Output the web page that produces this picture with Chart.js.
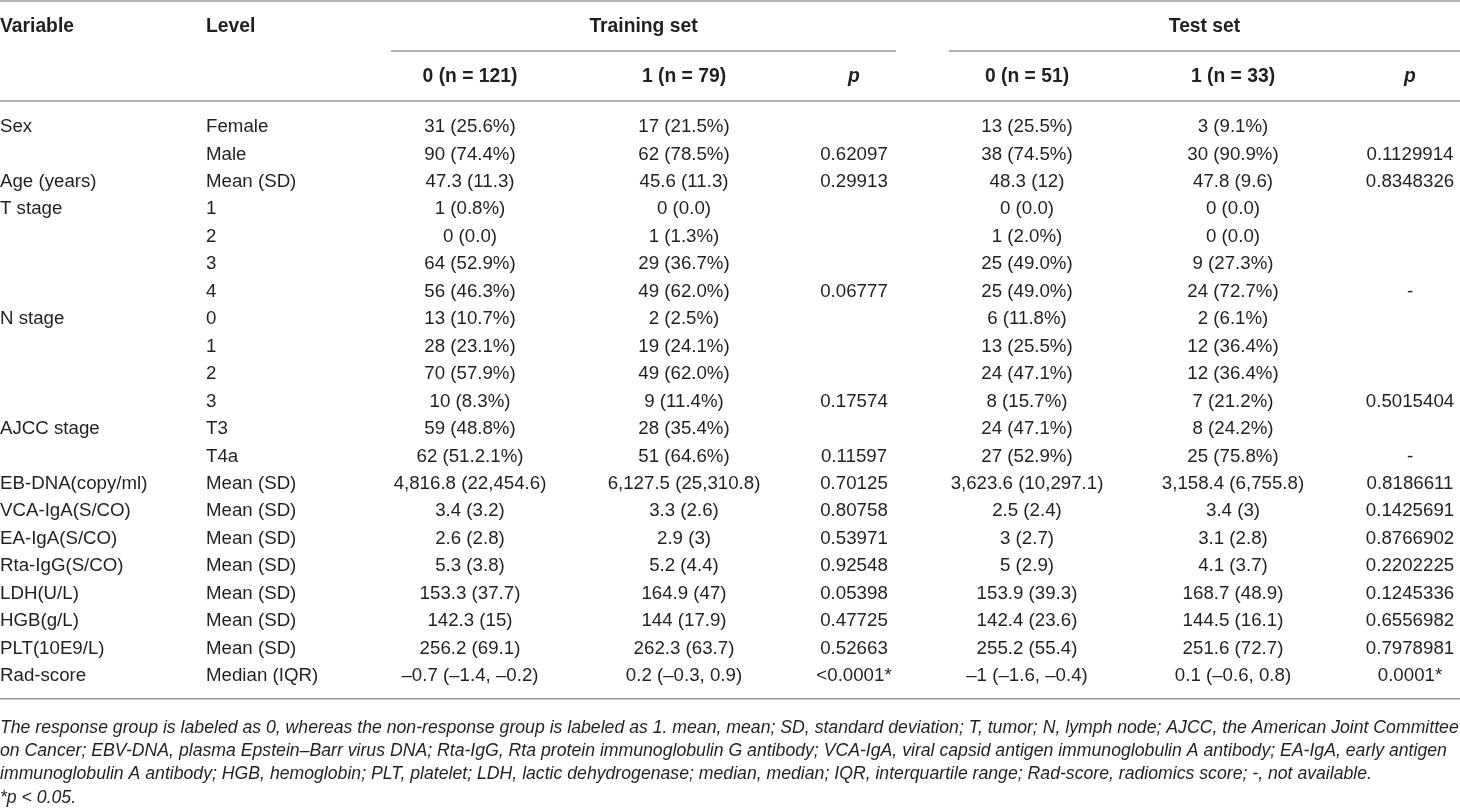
<!DOCTYPE html>
<html>
<head>
<meta charset="utf-8">
<script src="https://cdn.jsdelivr.net/npm/chart.js@4"></script>
<style>
  html, body { margin: 0; padding: 0; background: #fff; }
  #wrap { width: 1460px; height: 808px; position: relative; }
</style>
</head>
<body>
<div id="wrap"><canvas id="tableChart"></canvas></div>
<script>
// table values, one array per column
const variables = ['Sex', '', 'Age (years)', 'T stage', '', '', '', 'N stage', '', '', '', 'AJCC stage', '',
    'EB-DNA(copy/ml)', 'VCA-IgA(S/CO)', 'EA-IgA(S/CO)', 'Rta-IgG(S/CO)', 'LDH(U/L)', 'HGB(g/L)', 'PLT(10E9/L)', 'Rad-score'];
const levels = ['Female', 'Male', 'Mean (SD)', '1', '2', '3', '4', '0', '1', '2', '3', 'T3', 'T4a',
    'Mean (SD)', 'Mean (SD)', 'Mean (SD)', 'Mean (SD)', 'Mean (SD)', 'Mean (SD)', 'Mean (SD)', 'Median (IQR)'];
const train0 = ['31 (25.6%)', '90 (74.4%)', '47.3 (11.3)', '1 (0.8%)', '0 (0.0)', '64 (52.9%)', '56 (46.3%)',
    '13 (10.7%)', '28 (23.1%)', '70 (57.9%)', '10 (8.3%)', '59 (48.8%)', '62 (51.2.1%)', '4,816.8 (22,454.6)',
    '3.4 (3.2)', '2.6 (2.8)', '5.3 (3.8)', '153.3 (37.7)', '142.3 (15)', '256.2 (69.1)', '\u20130.7 (\u20131.4, \u20130.2)'];
const train1 = ['17 (21.5%)', '62 (78.5%)', '45.6 (11.3)', '0 (0.0)', '1 (1.3%)', '29 (36.7%)', '49 (62.0%)',
    '2 (2.5%)', '19 (24.1%)', '49 (62.0%)', '9 (11.4%)', '28 (35.4%)', '51 (64.6%)', '6,127.5 (25,310.8)',
    '3.3 (2.6)', '2.9 (3)', '5.2 (4.4)', '164.9 (47)', '144 (17.9)', '262.3 (63.7)', '0.2 (\u20130.3, 0.9)'];
const trainP = ['', '0.62097', '0.29913', '', '', '', '0.06777', '', '', '', '0.17574', '', '0.11597',
    '0.70125', '0.80758', '0.53971', '0.92548', '0.05398', '0.47725', '0.52663', '<0.0001*'];
const test0 = ['13 (25.5%)', '38 (74.5%)', '48.3 (12)', '0 (0.0)', '1 (2.0%)', '25 (49.0%)', '25 (49.0%)',
    '6 (11.8%)', '13 (25.5%)', '24 (47.1%)', '8 (15.7%)', '24 (47.1%)', '27 (52.9%)', '3,623.6 (10,297.1)',
    '2.5 (2.4)', '3 (2.7)', '5 (2.9)', '153.9 (39.3)', '142.4 (23.6)', '255.2 (55.4)', '\u20131 (\u20131.6, \u20130.4)'];
const test1 = ['3 (9.1%)', '30 (90.9%)', '47.8 (9.6)', '0 (0.0)', '0 (0.0)', '9 (27.3%)', '24 (72.7%)',
    '2 (6.1%)', '12 (36.4%)', '12 (36.4%)', '7 (21.2%)', '8 (24.2%)', '25 (75.8%)', '3,158.4 (6,755.8)',
    '3.4 (3)', '3.1 (2.8)', '4.1 (3.7)', '168.7 (48.9)', '144.5 (16.1)', '251.6 (72.7)', '0.1 (\u20130.6, 0.8)'];
const testP = ['', '0.1129914', '0.8348326', '', '', '', '-', '', '', '', '0.5015404', '', '-',
    '0.8186611', '0.1425691', '0.8766902', '0.2202225', '0.1245336', '0.6556982', '0.7978981', '0.0001*'];

const groupTitles = ['Training set', 'Test set'];
const colTitles = ['Variable', 'Level', '0 (n = 121)', '1 (n = 79)', 'p', '0 (n = 51)', '1 (n = 33)', 'p'];
const footnotes = [
    'The response group is labeled as 0, whereas the non-response group is labeled as 1. mean, mean; SD, standard deviation; T, tumor; N, lymph node; AJCC, the American Joint Committee',
    'on Cancer; EBV-DNA, plasma Epstein\u2013Barr virus DNA; Rta-IgG, Rta protein immunoglobulin G antibody; VCA-IgA, viral capsid antigen immunoglobulin A antibody; EA-IgA, early antigen',
    'immunoglobulin A antibody; HGB, hemoglobin; PLT, platelet; LDH, lactic dehydrogenase; median, median; IQR, interquartile range; Rad-score, radiomics score; -, not available.',
    '*p < 0.05.'
];

// layout (pixels on the x scale, which runs 0..1460)
const columns = [variables, levels, train0, train1, trainP, test0, test1, testP];
const colX = [0, 206, 470, 684, 854, 1027, 1233, 1410];
const colAlign = ['left', 'left', 'center', 'center', 'center', 'center', 'center', 'center'];
const groupSpan = [[391, 896], [949, 1460]];
const ROW_H = 27.45;
const BODY_TOP = 127 - ROW_H / 2;
const BODY_BOTTOM = BODY_TOP + ROW_H * variables.length;
const INK = '#231f20';
const RULE = '#9a9a9a';
const FONT = '"Liberation Sans", Arial, Helvetica, sans-serif';

const rowKeys = variables.map((_, i) => String(i));

const cellPlugin = {
    id: 'cellText',
    afterDatasetsDraw(chart) {
        const ctx = chart.ctx;
        const xs = chart.scales.x;
        const W = chart.width;
        ctx.save();
        ctx.fillStyle = INK;
        ctx.textBaseline = 'middle';

        // body cells, positioned by the dataset points
        ctx.font = '18.7px ' + FONT;
        chart.data.datasets.forEach((ds, d) => {
            const meta = chart.getDatasetMeta(d);
            ctx.textAlign = colAlign[d];
            meta.data.forEach((pt, i) => {
                const txt = ds.cells[i];
                if (txt) ctx.fillText(txt, pt.x, pt.y);
            });
        });

        // header rows
        ctx.font = 'bold 19.3px ' + FONT;
        ctx.textAlign = 'left';
        ctx.fillText(colTitles[0], xs.getPixelForValue(colX[0]), 27);
        ctx.fillText(colTitles[1], xs.getPixelForValue(colX[1]), 27);
        ctx.textAlign = 'center';
        groupTitles.forEach((t, g) => {
            const mid = (groupSpan[g][0] + groupSpan[g][1]) / 2;
            ctx.fillText(t, xs.getPixelForValue(mid), 27);
        });
        for (let c = 2; c < colTitles.length; c++) {
            ctx.font = (colTitles[c] === 'p' ? 'italic bold 19.3px ' : 'bold 19.3px ') + FONT;
            ctx.fillText(colTitles[c], xs.getPixelForValue(colX[c]), 77);
        }

        // rules
        ctx.strokeStyle = RULE;
        ctx.lineWidth = 1.6;
        const hline = (y, x0, x1) => {
            ctx.beginPath();
            ctx.moveTo(x0, y);
            ctx.lineTo(x1, y);
            ctx.stroke();
        };
        hline(1, 0, W);
        groupSpan.forEach(s => hline(51, xs.getPixelForValue(s[0]), xs.getPixelForValue(s[1])));
        hline(101, 0, W);
        hline(chart.chartArea.bottom + 9, 0, W);

        // footnotes, italic, first line fitted to the full width
        ctx.textAlign = 'left';
        ctx.font = 'italic 16px ' + FONT;
        const fit = 16 * (W - 1) / ctx.measureText(footnotes[0]).width;
        ctx.font = 'italic ' + fit.toFixed(2) + 'px ' + FONT;
        const fy = chart.chartArea.bottom + 38;
        footnotes.forEach((t, i) => ctx.fillText(t, 0, fy + i * 23.4));
        ctx.restore();
    }
};

document.addEventListener('DOMContentLoaded', function () {
    const ctx = document.getElementById('tableChart').getContext('2d');
    new Chart(ctx, {
        type: 'scatter',
        data: {
            datasets: columns.map((cells, c) => ({
                label: colTitles[c],
                cells: cells,
                data: rowKeys.map(k => ({ x: colX[c], y: k })),
                pointRadius: 0,
                pointHoverRadius: 0
            }))
        },
        options: {
            responsive: true,
            maintainAspectRatio: false,
            animation: false,
            layout: { padding: { top: BODY_TOP, bottom: 808 - BODY_BOTTOM, left: 0, right: 0 } },
            scales: {
                x: { type: 'linear', min: 0, max: 1460, display: false },
                y: { type: 'category', labels: rowKeys, offset: true, display: false }
            },
            plugins: {
                legend: { display: false },
                tooltip: { enabled: false }
            },
            events: []
        },
        plugins: [cellPlugin]
    });
});
</script>
</body>
</html>
